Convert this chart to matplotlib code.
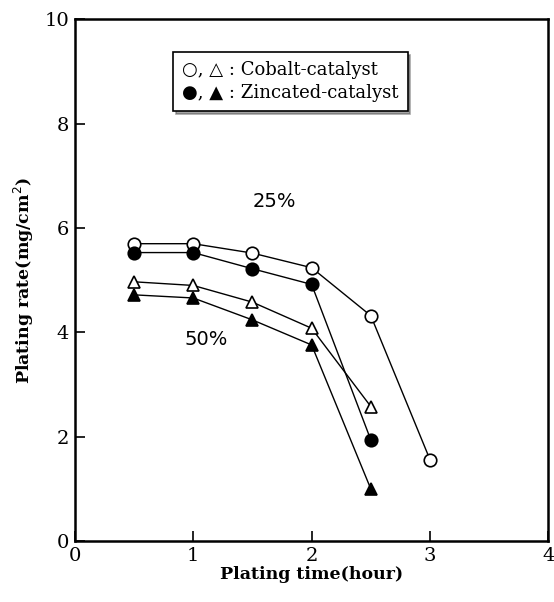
import numpy as np
import matplotlib.pyplot as plt
from matplotlib.lines import Line2D

plt.rcParams['font.family'] = ['DejaVu Serif', 'DejaVu Sans']

# data
t = [0.5, 1.0, 1.5, 2.0, 2.5, 3.0]
co_25 = [5.70, 5.70, 5.52, 5.24, 4.32, 1.56]      # open circles
zn_25 = [5.53, 5.53, 5.22, 4.92, 1.94]            # filled circles
co_50 = [4.97, 4.90, 4.58, 4.08, 2.58]            # open triangles
zn_50 = [4.72, 4.66, 4.24, 3.76, 1.00]            # filled triangles
leg_labels = ['\u25cb, \u25b3 : Cobalt-catalyst',
              '\u25cf, \u25b2 : Zincated-catalyst']

fig = plt.figure(figsize=(5.54, 6.02), dpi=100)
ax = fig.add_axes([0.135, 0.101, 0.855, 0.867])

kw = dict(color='k', linewidth=1.0, markersize=9, markeredgewidth=1.2)
ax.plot(t, co_25, '-o', markerfacecolor='white', **kw)
ax.plot(t[:5], zn_25, '-o', markerfacecolor='black', **kw)
ax.plot(t[:5], co_50, '-^', markerfacecolor='white', **kw)
ax.plot(t[:5], zn_50, '-^', markerfacecolor='black', **kw)

ax.text(1.5, 6.4, '25%', fontsize=14, family='DejaVu Sans')
ax.text(0.93, 3.75, '50%', fontsize=14, family='DejaVu Sans')

ax.set_xlim(0, 4)
ax.set_ylim(0, 10)
ax.set_xticks([0, 1, 2, 3, 4])
ax.set_yticks([0, 2, 4, 6, 8, 10])
ax.tick_params(direction='in', length=7, width=1.2, labelsize=14, pad=4)
for s in ax.spines.values():
    s.set_linewidth(1.8)

ax.set_xlabel('Plating time(hour)', fontsize=12.5, fontweight='bold', labelpad=1)
ax.set_ylabel('Plating rate(mg/cm$^2$)', fontsize=12.5, fontweight='bold', labelpad=6)

blank = [Line2D([], [], linestyle='none')] * 2
leg = ax.legend(blank, leg_labels, loc='upper center',
                bbox_to_anchor=(0.455, 0.955), fontsize=13,
                fancybox=False, shadow=True, edgecolor='k', framealpha=1,
                handlelength=0, handletextpad=0, borderpad=0.5,
                labelspacing=0.3)
leg.get_frame().set_linewidth(1.2)

plt.savefig('out.png', dpi=100)
